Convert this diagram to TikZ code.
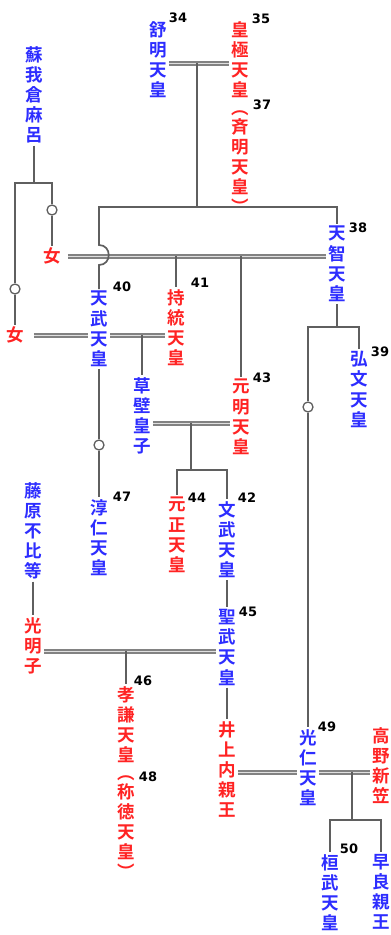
\documentclass[tikz,border=0pt]{standalone}
\usepackage{fontspec}
\newfontfamily\cjk{Noto Sans CJK JP}[BoldFont={Noto Sans CJK JP Bold}]
\newfontfamily\numfont{DejaVu Sans}
\definecolor{nblue}{RGB}{45,45,255}
\definecolor{nred}{RGB}{255,35,35}
\definecolor{lgray}{RGB}{95,95,95}
\definecolor{dgray}{RGB}{130,130,130}
\tikzset{
  vbase/.style={align=center, inner sep=2pt, font=\cjk\bfseries\fontsize{17.5}{20.2}\selectfont},
  col/.style={vbase, anchor=north, yshift=3pt},
  bl/.style={col, text=nblue},
  rd/.style={col, text=nred},
  rdone/.style={vbase, text=nred},
  num/.style={font=\numfont\bfseries\fontsize{13}{13}\selectfont, inner sep=0pt},
  ln/.style={draw=lgray, line width=1.7pt},
  dbl/.style={draw=dgray, double=white!75!dgray, double distance=1pt, line width=2pt},
  ring/.style={circle, draw=lgray, line width=1.3pt, fill=white, minimum size=10pt, inner sep=0pt}
}
\begin{document}
\begin{tikzpicture}[x=1pt, y=-1pt]
\useasboundingbox (0,0) rectangle (391,935);
% people
\node[bl] (soga) at (34,47) {蘇\\我\\倉\\麻\\呂};
\node[bl] (jomei) at (158,22) {舒\\明\\天\\皇};
\node[rd] (kogyoku) at (240,22) {皇\\極\\天\\皇\\[-2pt]︵\\[-2pt]斉\\明\\天\\皇\\︶};
\node[rdone] (f1) at (52,256) {女};
\node[rdone] (f2) at (15,335) {女};
\node[bl] (tenji) at (337,227) {天\\智\\天\\皇};
\node[bl] (tenmu) at (99,292) {天\\武\\天\\皇};
\node[rd] (jito) at (176,290) {持\\統\\天\\皇};
\node[bl] (kobun) at (359,352) {弘\\文\\天\\皇};
\node[bl] (kusakabe) at (142,378) {草\\壁\\皇\\子};
\node[rd] (genmei) at (241,380) {元\\明\\天\\皇};
\node[bl] (junnin) at (99,500) {淳\\仁\\天\\皇};
\node[rd] (gensho) at (177,498) {元\\正\\天\\皇};
\node[bl] (monmu) at (227,502) {文\\武\\天\\皇};
\node[bl] (fuhito) at (33,483) {藤\\原\\不\\比\\等};
\node[rd] (komyo) at (33,618) {光\\明\\子};
\node[bl] (shomu) at (227,610) {聖\\武\\天\\皇};
\node[rd] (koken) at (126,687) {孝\\謙\\天\\皇\\[-2pt]︵\\[-2pt]称\\徳\\天\\皇\\︶};
\node[rd] (inoue) at (227,722) {井\\上\\内\\親\\王};
\node[bl] (konin) at (308,730) {光\\仁\\天\\皇};
\node[rd] (takano) at (381,728) {高\\野\\新\\笠};
\node[bl] (kanmu) at (330,855) {桓\\武\\天\\皇};
\node[bl] (sawara) at (381,855) {早\\良\\親\\王};
% numbers
\node[num] (n34) at (178,17.5) {34};
\node[num] (n35) at (261,18.5) {35};
\node[num] (n37) at (262,105) {37};
\node[num] (n38) at (358,228) {38};
\node[num] (n39) at (380,352) {39};
\node[num] (n40) at (122,287) {40};
\node[num] (n41) at (200,283) {41};
\node[num] (n43) at (262,378) {43};
\node[num] (n44) at (197,498) {44};
\node[num] (n42) at (247,498) {42};
\node[num] (n47) at (122,497) {47};
\node[num] (n45) at (248,612) {45};
\node[num] (n46) at (143,681) {46};
\node[num] (n48) at (148,777) {48};
\node[num] (n49) at (327,727) {49};
\node[num] (n50) at (349,849) {50};
% helper coordinates
\coordinate (sb) at (34,183);
\coordinate (m1) at (197,63);
\coordinate (j1) at (197,207);
\coordinate (y423) at (0,423);
\coordinate (k1) at (191,423);
\coordinate (k2) at (191,470);
\coordinate (y651) at (0,651);
\coordinate (y772) at (0,772);
\coordinate (q1) at (352,772);
\coordinate (q2) at (352,820);
\coordinate (t1) at (337,327);
% rings
\node[ring] (c1) at (52,210) {};
\node[ring] (c2) at (15,289) {};
\node[ring] (c3) at (99,445) {};
\node[ring] (c4) at (308,407) {};
% Soga bracket
\draw[ln] (soga) -- (sb);
\draw[ln] (sb) -| (c1);
\draw[ln] (c1) -- (f1);
\draw[ln] (sb) -| (c2);
\draw[ln] (c2) -- (f2);
% Jomei - Kogyoku
\draw[dbl] (jomei.east |- m1) -- (kogyoku.west |- m1);
\draw[ln] (m1) -- (j1);
\draw[ln] (j1) -| (tenji);
% f1 - Tenji
\draw[dbl, shorten <=5pt] (f1.east) -- (f1.east -| tenji.west);
\draw[ln] (jito.north |- f1.east) -- (jito);
\draw[ln] (genmei.north |- f1.east) -- (genmei);
% Tenmu line with hop
\draw[ln] (j1) -- (99,207) -- (99,245) .. controls (112,245) and (112,265) .. (99,265) -- (tenmu);
% f2 - Tenmu - Jito
\draw[dbl, shorten <=8pt] (f2.east) -- (f2.east -| tenmu.west);
\draw[dbl] (f2.east -| tenmu.east) -- (f2.east -| jito.west);
\draw[ln] (kusakabe.north |- f2.east) -- (kusakabe);
% Tenmu -> Junnin
\draw[ln] (tenmu) -- (c3);
\draw[ln] (c3) -- (junnin);
% Kusakabe - Genmei
\draw[dbl] (kusakabe.east |- y423) -- (genmei.west |- y423);
\draw[ln] (k1) -- (k2);
\draw[ln] (k2) -| (gensho);
\draw[ln] (k2) -| (monmu);
% Monmu -> Shomu, Fuhito -> Komyo
\draw[ln] (monmu) -- (shomu);
\draw[ln] (fuhito) -- (komyo);
% Komyo - Shomu
\draw[dbl] (komyo.east |- y651) -- (shomu.west |- y651);
\draw[ln] (koken.north |- y651) -- (koken);
\draw[ln] (shomu) -- (inoue);
% Inoue - Konin - Takano
\draw[dbl] (inoue.east |- y772) -- (konin.west |- y772);
\draw[dbl] (konin.east |- y772) -- (takano.west |- y772);
\draw[ln] (q1) -- (q2);
\draw[ln] (q2) -| (kanmu);
\draw[ln] (q2) -| (sawara);
% Tenji bracket
\draw[ln] (tenji) -- (t1);
\draw[ln] (t1) -| (kobun);
\draw[ln] (t1) -| (c4);
\draw[ln] (c4) -- (konin);
\end{tikzpicture}
\end{document}
